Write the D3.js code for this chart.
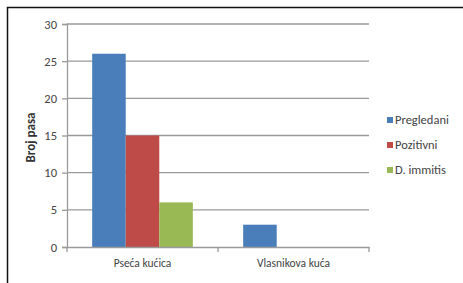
<!DOCTYPE html>
<html lang="hr">
<head>
<meta charset="UTF-8">
<title>Broj pasa</title>
<style>
  body { margin: 0; background: #fff; }
  svg text { font-family: Carlito, "Liberation Sans Narrow", "Liberation Sans", sans-serif; fill: #333; }
</style>
</head>
<body>
<div id="chart"></div>
<script src="https://d3js.org/d3.v7.min.js"></script>
<script>
const categories = ['Pseća kućica', 'Vlasnikova kuća'];
const seriesNames = ['Pregledani', 'Pozitivni', 'D. immitis'];
const pregledani = [26, 3];
const pozitivni = [15, 0];
const immitis = [6, 0];
const yTicks = [0, 5, 10, 15, 20, 25, 30];
const colors = ['#4A7EBB', '#BE4B48', '#98B954'];

const w = 463, h = 283;
const padL = 67, padR = 369, padT = 24, padB = 247;

const svg = d3.select('#chart').append('svg')
    .attr('width', w).attr('height', h);

// outer frame (cut off on the right and bottom)
svg.append('path')
    .attr('d', `M7.5,${h} V7.5 H${w}`)
    .attr('fill', 'none').attr('stroke', '#111').attr('stroke-width', 1.5);

const x = d3.scaleBand().domain(categories).range([padL, padR]).paddingInner(0).paddingOuter(0);
const x1 = d3.scaleBand().domain(seriesNames).range([0, x.bandwidth()]).paddingOuter(0.75).paddingInner(0);
const y = d3.scaleLinear().domain([0, 30]).range([padB, padT]);

// grid
svg.append('g').selectAll('line').data(yTicks.filter(d => d > 0)).join('line')
    .attr('x1', padL).attr('x2', padR)
    .attr('y1', d => y(d)).attr('y2', d => y(d))
    .attr('stroke', '#9a9a9a').attr('stroke-width', 1.3);

// bars
const rows = categories.map((c, i) => ({ cat: c, vals: [pregledani[i], pozitivni[i], immitis[i]] }));
svg.append('g').selectAll('g').data(rows).join('g')
    .attr('transform', d => `translate(${x(d.cat)},0)`)
  .selectAll('rect').data(d => d.vals.map((v, j) => ({ s: seriesNames[j], v, j })))
  .join('rect')
    .attr('x', d => x1(d.s)).attr('width', x1.bandwidth())
    .attr('y', d => y(d.v)).attr('height', d => y(0) - y(d.v))
    .attr('fill', d => colors[d.j]);

// y axis
const yAxis = svg.append('g').attr('transform', `translate(${padL},0)`)
    .call(d3.axisLeft(y).tickValues(yTicks).tickSize(5).tickPadding(5));
yAxis.selectAll('line, path').attr('stroke', '#9a9a9a').attr('stroke-width', 1.3);
yAxis.selectAll('text').attr('font-size', 12.5).style('fill', '#444');

// x axis
const xAxis = svg.append('g').attr('transform', `translate(0,${padB})`)
    .call(d3.axisBottom(x).tickSize(0).tickPadding(12));
xAxis.select('path').attr('stroke', '#9a9a9a').attr('stroke-width', 1.3);
xAxis.selectAll('text').attr('font-size', 11.5).style('fill', '#444');
xAxis.selectAll('.edge').data([padL, padL + x.step(), padR]).join('line')
    .attr('class', 'edge')
    .attr('x1', d => d).attr('x2', d => d).attr('y1', 0).attr('y2', 5)
    .attr('stroke', '#9a9a9a').attr('stroke-width', 1.3);

// y label
svg.append('text')
    .attr('transform', `translate(35,${(padT + padB) / 2 + 2}) rotate(-90)`)
    .attr('text-anchor', 'middle')
    .attr('font-size', 13).attr('font-weight', 'bold')
    .text('Broj pasa');

// legend
const leg = svg.append('g').selectAll('g').data(seriesNames).join('g')
    .attr('transform', (d, i) => `translate(387,${120 + i * 25})`);
leg.append('rect').attr('x', 0).attr('y', -3).attr('width', 6).attr('height', 6)
    .attr('fill', (d, i) => colors[i]);
leg.append('text').attr('x', 8).attr('dy', '0.35em')
    .attr('font-size', 12.5).style('fill', '#444')
    .text(d => d);
</script>
</body>
</html>
